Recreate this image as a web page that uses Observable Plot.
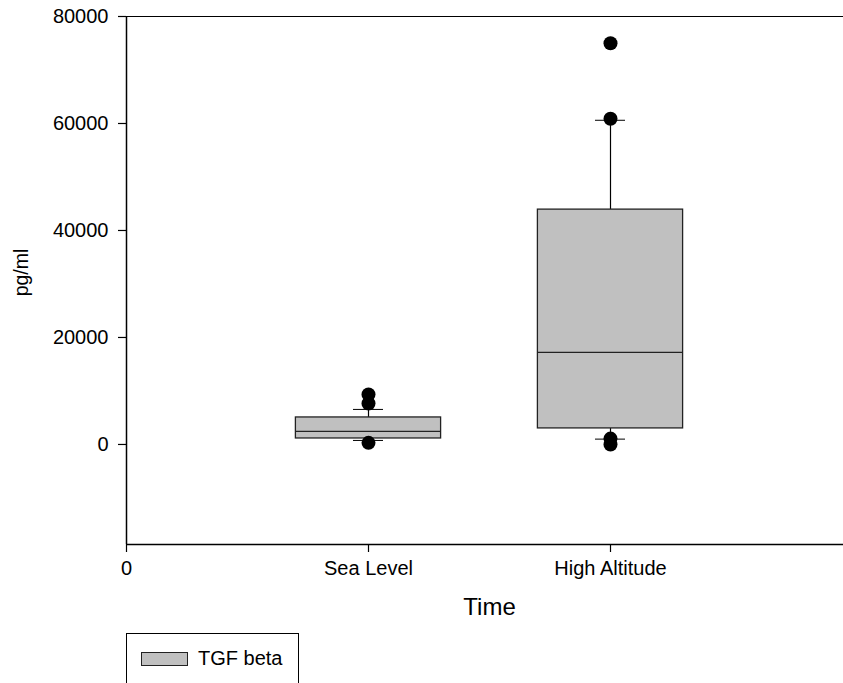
<!DOCTYPE html>
<html>
<head>
<meta charset="utf-8">
<script src="https://cdn.jsdelivr.net/npm/d3@7"></script>
<script src="https://cdn.jsdelivr.net/npm/@observablehq/plot@0.6"></script>
<style>
  html, body { margin: 0; padding: 0; background: white; overflow: hidden; }
  body { width: 843px; height: 683px; font-family: "Liberation Sans", Arial, sans-serif; }
  #legend {
    position: absolute; left: 126px; top: 633px; width: 173px; height: 70px;
    border: 1px solid #000; box-sizing: border-box; background: white;
  }
  #legend .sw {
    position: absolute; left: 14px; top: 18px; width: 47px; height: 14px;
    background: #c0c0c0; border: 1px solid #222; box-sizing: border-box;
  }
  #legend .lb {
    position: absolute; left: 71px; top: 13px; font-size: 20px; color: #000; line-height: 22px;
  }
</style>
</head>
<body>
<div id="chart"></div>
<div id="legend"><div class="sw"></div><div class="lb" id="legendLabel"></div></div>
<script>
// ---- data ----
const categories = ["Sea Level", "High Altitude"];
const seriesName = "TGF beta";
const q1 = [1120, 3000];
const medians = [2430, 17200];
const q3 = [5050, 43900];
const whiskerLow = [750, 1000];
const whiskerHigh = [6550, 60600];
const outliersSeaLevel = [9350, 7650, 300];
const outliersHighAltitude = [75000, 60900, 1100, 0];
const yTicks = [0, 20000, 40000, 60000, 80000];
const yDomain = [-18700, 80000];
const xTickLabels = ["0", "Sea Level", "High Altitude"];
const xLabel = "Time";
const yLabel = "pg/ml";

// ---- build table ----
const boxes = categories.map((c, i) => ({
  cat: c, pos: i + 1, q1: q1[i], med: medians[i], q3: q3[i], lo: whiskerLow[i], hi: whiskerHigh[i]
}));
const outliers = [
  ...outliersSeaLevel.map(v => ({pos: 1, v})),
  ...outliersHighAltitude.map(v => ({pos: 2, v}))
];
const hw = 0.3;   // box half-width (x units)
const cw = 0.062; // cap half-width

const font = "Liberation Sans, Arial, sans-serif";

const chart = Plot.plot({
  width: 843,
  height: 625,
  marginLeft: 126,
  marginRight: -9,
  marginTop: 16,
  marginBottom: 81,
  style: {fontFamily: font, background: "white", overflow: "visible"},
  x: {domain: [0, 3]},
  y: {domain: yDomain},
  marks: [
    // frame lines
    Plot.ruleY([yDomain[1]], {stroke: "#000", strokeWidth: 1.2}),
    Plot.ruleY([yDomain[0]], {stroke: "#000", strokeWidth: 1.5}),
    Plot.ruleX([0], {stroke: "#000", strokeWidth: 1.5}),
    // whiskers
    Plot.ruleX(boxes, {x: "pos", y1: "q3", y2: "hi", stroke: "#000", strokeWidth: 1.2}),
    Plot.ruleX(boxes, {x: "pos", y1: "q1", y2: "lo", stroke: "#000", strokeWidth: 1.2}),
    Plot.ruleY(boxes, {y: "hi", x1: d => d.pos - cw, x2: d => d.pos + cw, stroke: "#000", strokeWidth: 1}),
    Plot.ruleY(boxes, {y: "lo", x1: d => d.pos - cw, x2: d => d.pos + cw, stroke: "#000", strokeWidth: 1}),
    // boxes
    Plot.rect(boxes, {x1: d => d.pos - hw, x2: d => d.pos + hw, y1: "q1", y2: "q3",
      fill: "#c0c0c0", stroke: "#222", strokeWidth: 1.3}),
    Plot.ruleY(boxes, {y: "med", x1: d => d.pos - hw, x2: d => d.pos + hw, stroke: "#222", strokeWidth: 1.2}),
    // outliers
    Plot.dot(outliers, {x: "pos", y: "v", r: 7, fill: "#000", stroke: "none"}),
    // axes
    Plot.axisY({ticks: yTicks, tickFormat: d => String(d), tickSize: 8, tickPadding: 10,
      fontSize: 20, label: null, stroke: "#000", strokeWidth: 1.2}),
    Plot.axisX({ticks: [0, 1, 2], tickFormat: d => xTickLabels[d], tickSize: 8, tickPadding: 8,
      fontSize: 20, label: null, stroke: "#000", strokeWidth: 1.2}),
    // axis titles
    Plot.text([xLabel], {text: d => d, frameAnchor: "bottom", dy: 70, fontSize: 24, fill: "#000"}),
    Plot.text([yLabel], {text: d => d, frameAnchor: "left", textAnchor: "middle", lineAnchor: "middle",
      dx: -105, dy: -8, rotate: -90, fontSize: 19.5, fill: "#000"})
  ]
});
document.getElementById("chart").appendChild(chart);
document.getElementById("legendLabel").textContent = seriesName;
</script>
</body>
</html>
